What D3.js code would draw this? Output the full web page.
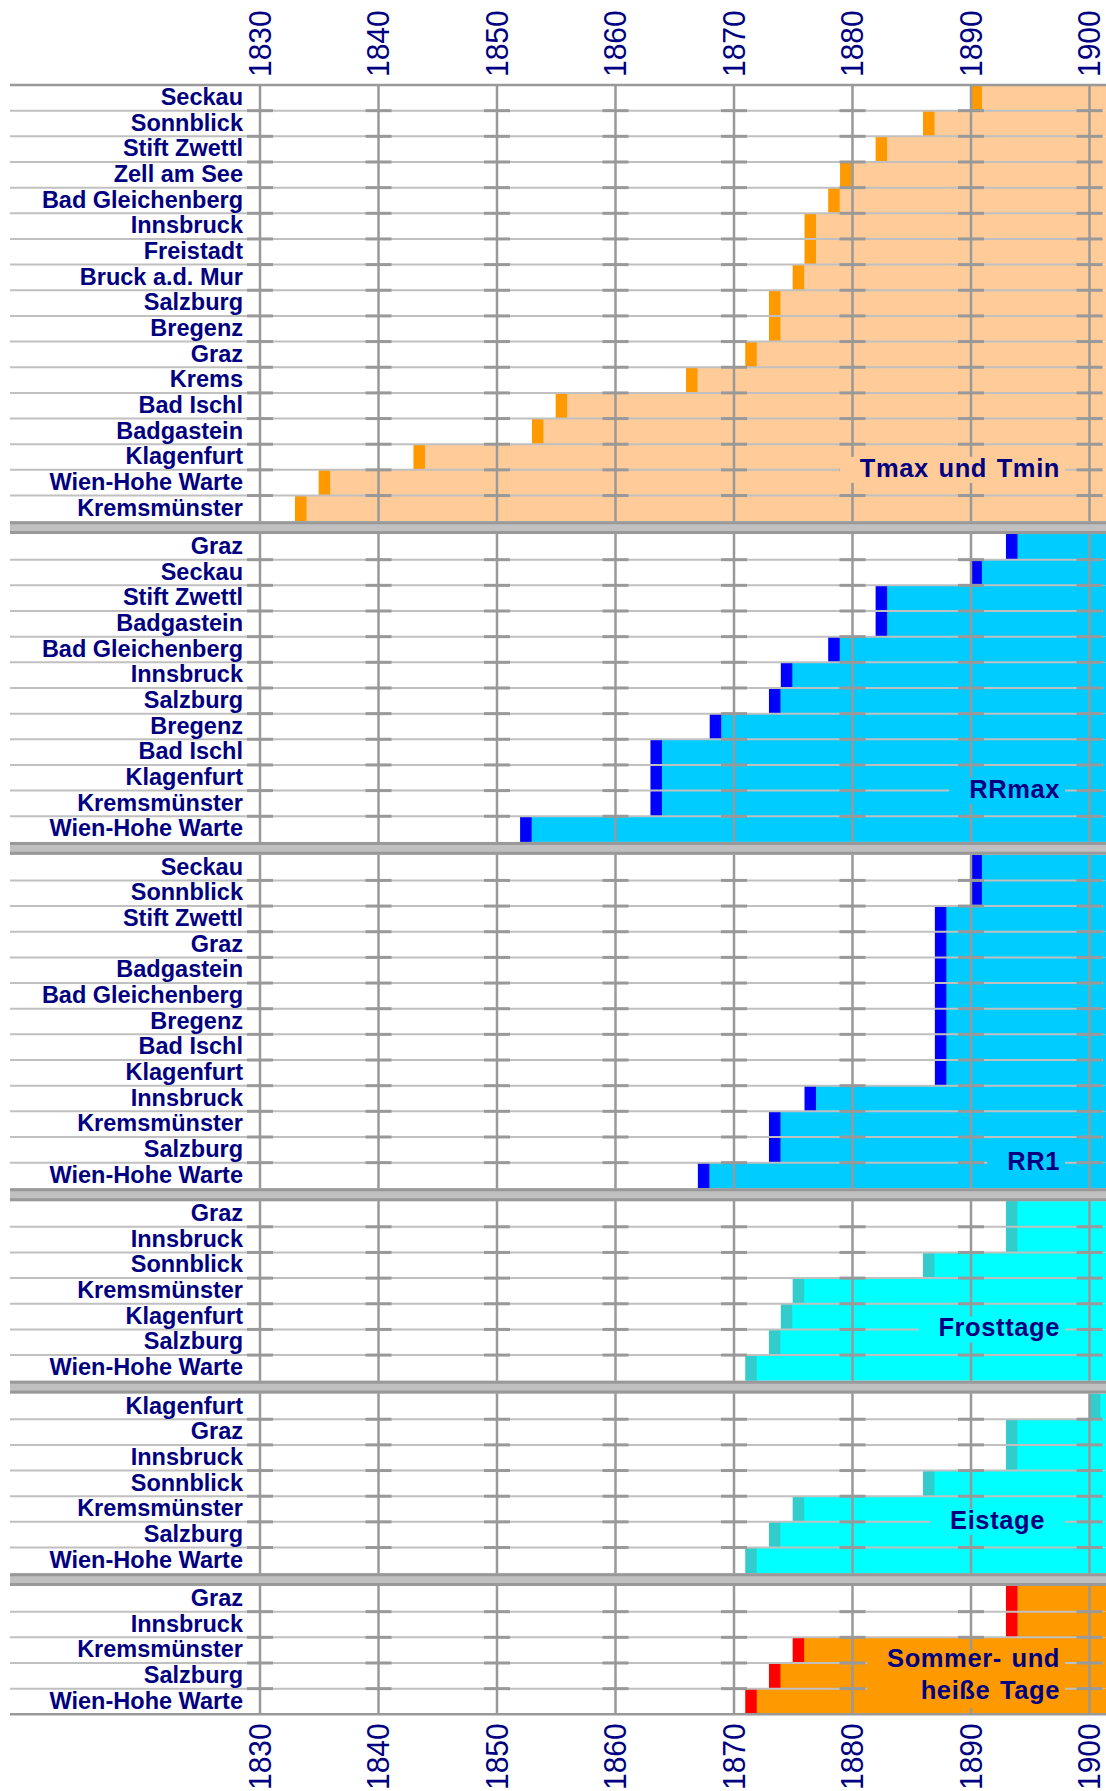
<!DOCTYPE html>
<html><head><meta charset="utf-8">
<script src="https://cdn.jsdelivr.net/npm/d3@7"></script>
<style>
body{margin:0;background:#fff}
svg{display:block}
text{font-family:"Liberation Sans",Arial,sans-serif}
</style>
</head><body>
<svg id="c" width="1106" height="1791"></svg>
<script>
// ---------- data ----------
const yearTicks = [1830, 1840, 1850, 1860, 1870, 1880, 1890, 1900];
const yearEnd = 1901.45;

const tmaxStations = ["Seckau","Sonnblick","Stift Zwettl","Zell am See","Bad Gleichenberg","Innsbruck","Freistadt","Bruck a.d. Mur","Salzburg","Bregenz","Graz","Krems","Bad Ischl","Badgastein","Klagenfurt","Wien-Hohe Warte","Kremsmünster"];
const tmaxStart = [1890,1886,1882,1879,1878,1876,1876,1875,1873,1873,1871,1866,1855,1853,1843,1835,1833];

const rrmaxStations = ["Graz","Seckau","Stift Zwettl","Badgastein","Bad Gleichenberg","Innsbruck","Salzburg","Bregenz","Bad Ischl","Klagenfurt","Kremsmünster","Wien-Hohe Warte"];
const rrmaxStart = [1893,1890,1882,1882,1878,1874,1873,1868,1863,1863,1863,1852];

const rr1Stations = ["Seckau","Sonnblick","Stift Zwettl","Graz","Badgastein","Bad Gleichenberg","Bregenz","Bad Ischl","Klagenfurt","Innsbruck","Kremsmünster","Salzburg","Wien-Hohe Warte"];
const rr1Start = [1890,1890,1887,1887,1887,1887,1887,1887,1887,1876,1873,1873,1867];

const frostStations = ["Graz","Innsbruck","Sonnblick","Kremsmünster","Klagenfurt","Salzburg","Wien-Hohe Warte"];
const frostStart = [1893,1893,1886,1875,1874,1873,1871];

const eisStations = ["Klagenfurt","Graz","Innsbruck","Sonnblick","Kremsmünster","Salzburg","Wien-Hohe Warte"];
const eisStart = [1900,1893,1893,1886,1875,1873,1871];

const sommerStations = ["Graz","Innsbruck","Kremsmünster","Salzburg","Wien-Hohe Warte"];
const sommerStart = [1893,1893,1875,1873,1871];

const sectionTitles = [["Tmax und Tmin"],["RRmax"],["RR1"],["Frosttage"],["Eistage"],["Sommer- und","heiße Tage"]];

// ---------- styling / layout ----------
const fillColors = ["#ffcc99","#00ccff","#00ccff","#00ffff","#00ffff","#ff9900"];
const markColors = ["#ff9900","#0000ff","#0000ff","#33cccc","#33cccc","#ff0000"];
// title placement: row boundary (within section) the title is centred on, right end x
const titleLayout = [
  {boundary:15, xEnd:1060, dy:7},
  {boundary:10, xEnd:1060, dy:7},
  {boundary:12, xEnd:1060, dy:7},
  {boundary:5,  xEnd:1060, dy:7},
  {boundary:5,  xEnd:1045, dy:7},
  {boundary:3,  xEnd:1060, dy:4}
];
const titleLineGap = 32;

const sections = [
  {stations: tmaxStations, start: tmaxStart},
  {stations: rrmaxStations, start: rrmaxStart},
  {stations: rr1Stations, start: rr1Start},
  {stations: frostStations, start: frostStart},
  {stations: eisStations, start: eisStart},
  {stations: sommerStations, start: sommerStart}
];

const W = 1106, H = 1791;
const navy = "#000080", grid = "#999999", rowLine = "#c0c0c0";
const svg = d3.select("#c");

// row units: each station = 1 unit, each gap between sections = 0.5 unit
const gapUnits = 0.5;
let u = 0;
sections.forEach((s, i) => {
  s.u0 = u;
  u += s.stations.length;
  s.u1 = u;
  if (i < sections.length - 1) u += gapUnits;
});
const totalUnits = u;

const x = d3.scaleLinear().domain([1830, 1900]).range([260, 1089.5]);
const y = d3.scaleLinear().domain([0, totalUnits]).range([85, 1714.3]);

const lineLeft = 10, lineRight = 1103;

// ---------- bars ----------
const gBars = svg.append("g");
sections.forEach((s, si) => {
  s.stations.forEach((name, i) => {
    const top = y(s.u0 + i), bot = y(s.u0 + i + 1);
    const st = s.start[i];
    gBars.append("rect")
      .attr("x", x(st)).attr("y", top)
      .attr("width", x(yearEnd) - x(st)).attr("height", bot - top)
      .attr("fill", fillColors[si]);
    gBars.append("rect")
      .attr("x", x(st - 0.05)).attr("y", top)
      .attr("width", x(st + 0.92) - x(st - 0.05)).attr("height", bot - top)
      .attr("fill", markColors[si]);
  });
});

// ---------- row lines ----------
const gRows = svg.append("g");
sections.forEach(s => {
  for (let k = s.u0 + 1; k < s.u1; k++) {
    gRows.append("line")
      .attr("x1", lineLeft).attr("x2", lineRight)
      .attr("y1", y(k)).attr("y2", y(k))
      .attr("stroke", rowLine).attr("stroke-width", 2);
  }
});

// ---------- vertical grid lines ----------
const gGrid = svg.append("g");
gGrid.selectAll("line").data(yearTicks).join("line")
  .attr("x1", d => x(d)).attr("x2", d => x(d))
  .attr("y1", y(0)).attr("y2", y(totalUnits))
  .attr("stroke", grid).attr("stroke-width", 2.5);

// ---------- tick marks at intersections ----------
const gTicks = svg.append("g");
sections.forEach(s => {
  for (let k = s.u0 + 1; k < s.u1; k++) {
    yearTicks.forEach(yr => {
      gTicks.append("line")
        .attr("x1", x(yr) - 13).attr("x2", x(yr) + 13)
        .attr("y1", y(k)).attr("y2", y(k))
        .attr("stroke", grid).attr("stroke-width", 3);
    });
  }
});

// ---------- separators and borders ----------
const gSep = svg.append("g");
sections.forEach((s, i) => {
  if (i < sections.length - 1) {
    const a = y(s.u1), b = y(sections[i + 1].u0);
    gSep.append("rect").attr("x", lineLeft).attr("y", a).attr("width", W - lineLeft).attr("height", b - a)
      .attr("fill", "#c0c0c0");
    [a + 1.5, b - 1.5].forEach(yy => gSep.append("line")
      .attr("x1", lineLeft).attr("x2", W).attr("y1", yy).attr("y2", yy)
      .attr("stroke", grid).attr("stroke-width", 3));
  }
});
[y(0), y(totalUnits)].forEach(yy => gSep.append("line")
  .attr("x1", lineLeft).attr("x2", W).attr("y1", yy).attr("y2", yy)
  .attr("stroke", grid).attr("stroke-width", 2.5));

// ---------- station labels ----------
const gLab = svg.append("g");
sections.forEach(s => {
  s.stations.forEach((name, i) => {
    gLab.append("text")
      .attr("x", 243).attr("y", y(s.u0 + i) + 20)
      .attr("text-anchor", "end")
      .attr("font-size", 23.5).attr("font-weight", "bold")
      .attr("fill", navy)
      .text(name);
  });
});

// ---------- section titles ----------
const gTitle = svg.append("g");
sections.forEach((s, si) => {
  const lay = titleLayout[si];
  const lines = sectionTitles[si];
  const cy0 = y(s.u0 + lay.boundary);
  const g = gTitle.append("g");
  const texts = lines.map((t, li) => g.append("text")
    .attr("x", lay.xEnd)
    .attr("y", cy0 + li * titleLineGap + lay.dy)
    .attr("text-anchor", "end")
    .attr("font-size", 25.5).attr("font-weight", "bold")
    .attr("letter-spacing", 0.6)
    .attr("word-spacing", 2)
    .attr("fill", navy)
    .text(t));
  let minX = Infinity;
  texts.forEach(t => { const bb = t.node().getBBox(); minX = Math.min(minX, bb.x); });
  g.insert("rect", "text")
    .attr("x", minX - 20).attr("y", cy0 - 13)
    .attr("width", 1065 - (minX - 20)).attr("height", 26 + (lines.length - 1) * titleLineGap)
    .attr("fill", fillColors[si]);
});

// ---------- year labels (top and bottom) ----------
const gYears = svg.append("g");
[77, 1790].forEach(base => {
  gYears.selectAll(null).data(yearTicks).join("text")
    .attr("transform", d => `translate(${x(d) + 10.5},${base}) rotate(-90) scale(1,1.07)`)
    .attr("font-size", 30)
    .attr("fill", navy)
    .text(d => d);
});
</script>
</body></html>
